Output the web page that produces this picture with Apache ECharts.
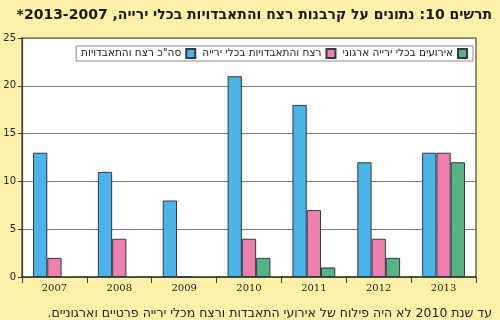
<!DOCTYPE html>
<html>
<head>
<meta charset="utf-8">
<script src="https://cdn.jsdelivr.net/npm/echarts@6/dist/echarts.min.js"></script>
<style>
  html, body { margin: 0; padding: 0; background: #fdf0a8; }
  #chart { width: 500px; height: 320px; direction: rtl; }
</style>
</head>
<body>
<div id="chart"></div>
<script>
// data
const years = ['2007', '2008', '2009', '2010', '2011', '2012', '2013'];
const totalKill = [13, 11, 8, 21, 18, 12, 13];   // blue
const gunKill = [2, 4, 0, 4, 7, 4, 13];          // pink
const orgEvents = [null, null, null, 2, 1, 2, 12]; // green
const seriesNames = ['סה"כ רצח והתאבדויות', 'רצח והתאבדויות בכלי ירייה', 'אירועים בכלי ירייה ארגוני'];
const yTicks = [0, 5, 10, 15, 20, 25];

const titleText = 'תרשים 10: נתונים על קרבנות רצח והתאבדויות בכלי ירייה, 2013-2007*';
const noteText = 'עד שנת 2010 לא היה פילוח של אירועי התאבדות ורצח מכלי ירייה פרטיים וארגוניים.';

const colors = ['#4db4e8', '#ee80b0', '#58b283'];
const edge = '#2f3a44';

const chart = echarts.init(document.getElementById('chart'));

const mkSeries = (name, data, i) => ({
  name: name,
  type: 'bar',
  data: data,
  barGap: '0%',
  barCategoryGap: '34%',
  itemStyle: { color: colors[i], borderColor: edge, borderWidth: 1 }
});

chart.setOption({
  backgroundColor: '#fdf0a8',
  animation: false,
  title: [
    {
      text: titleText,
      right: 3, top: 3,
      textStyle: { fontFamily: 'DejaVu Sans', fontWeight: 'bold', fontSize: 14, color: '#1a1a1a' }
    },
    {
      text: noteText,
      right: 3, top: 302,
      textStyle: { fontFamily: 'DejaVu Sans', fontWeight: 'normal', fontSize: 12.5, color: '#222' }
    }
  ],
  legend: {
    data: seriesNames,
    right: 27, top: 46,
    align: 'right',
    icon: 'rect',
    itemWidth: 9, itemHeight: 9, itemGap: 6,
    padding: [2, 5],
    backgroundColor: '#ffffff',
    borderColor: '#8a8a8a', borderWidth: 1,
    textStyle: { fontFamily: 'DejaVu Sans', fontSize: 10.5, color: '#222' }
  },
  grid: {
    left: 22, right: 24, top: 38, bottom: 43,
    show: true, backgroundColor: '#ffffff', borderColor: '#4a4a3c', borderWidth: 1.2
  },
  xAxis: {
    type: 'category',
    data: years,
    axisLine: { lineStyle: { color: '#3a3a30', width: 1.5 } },
    axisTick: { show: true, length: 6, lineStyle: { color: '#3a3a30' } },
    axisLabel: { fontFamily: 'DejaVu Serif', fontSize: 10, color: '#222', margin: 6 }
  },
  yAxis: {
    type: 'value',
    min: yTicks[0], max: yTicks[yTicks.length - 1], interval: 5,
    axisLine: { show: true, lineStyle: { color: '#3a3a30', width: 1.2 } },
    axisTick: { show: true, length: 4, lineStyle: { color: '#3a3a30' } },
    axisLabel: { fontFamily: 'DejaVu Sans', fontSize: 10, color: '#222', margin: 6 },
    splitLine: { lineStyle: { color: '#7c7c7c', width: 1 } }
  },
  series: [
    mkSeries(seriesNames[0], totalKill, 0),
    mkSeries(seriesNames[1], gunKill, 1),
    mkSeries(seriesNames[2], orgEvents, 2)
  ]
});
</script>
</body>
</html>
